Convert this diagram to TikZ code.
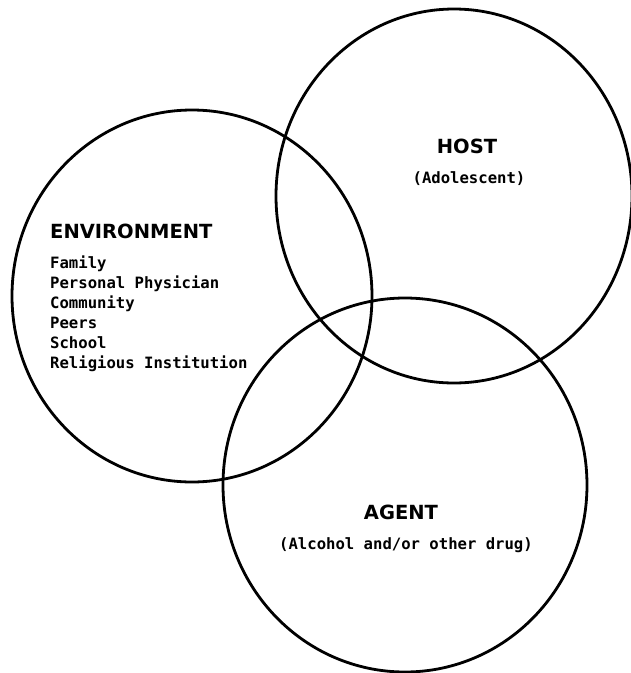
\documentclass[tikz,border=0pt]{standalone}
\usepackage{fontspec}
\setmainfont{DejaVu Sans}
\newfontfamily\typefont{DejaVu Sans Mono}
\usetikzlibrary{shapes.geometric}

\tikzset{
  ring/.style={draw, ellipse, line width=2.8pt, inner sep=0pt},
  headtext/.style={anchor=base, font=\bfseries\fontsize{19.5}{24}\selectfont},
  itemtext/.style={anchor=base west, font=\typefont\bfseries\fontsize{15.6}{20}\selectfont, inner sep=0pt},
  subtext/.style={anchor=base, font=\typefont\bfseries\fontsize{15.6}{20}\selectfont, inner sep=0pt}
}

\begin{document}
\begin{tikzpicture}[x=1pt, y=-1pt]
\useasboundingbox (0,0) rectangle (631,673);

% the three rings
\node (env) [ring, minimum width=360pt, minimum height=372pt] at (192,296) {};
\node (host) [ring, minimum width=356pt, minimum height=374pt] at (454,196) {};
\node (agent) [ring, minimum width=364pt, minimum height=374pt] at (405,485) {};

% labels
\node (hosthead) [headtext, inner sep=0pt] at (467,153) {HOST};
\node (hostsub) [subtext] at (469,183) {(Adolescent)};

\node (envhead) [headtext, anchor=base west, inner sep=0pt] at (50,238) {ENVIRONMENT};
\foreach \name [count=\i] in {Family, Personal Physician, Community, Peers, School, Religious Institution}
  \node (envitem\i) [itemtext] at (50,248+20*\i) {\name};

\node (agenthead) [headtext, inner sep=0pt] at (401,519) {AGENT};
\node (agentsub) [subtext] at (406,549) {(Alcohol and/or other drug)};
\end{tikzpicture}
\end{document}
